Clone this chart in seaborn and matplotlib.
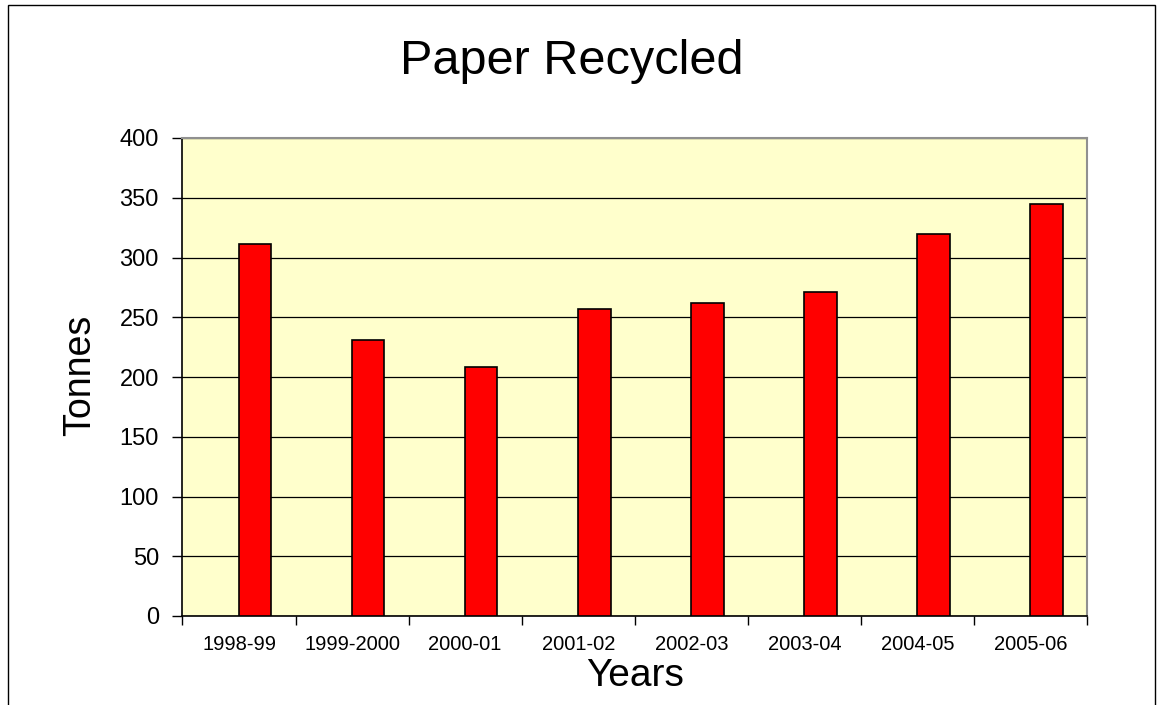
import matplotlib
matplotlib.use("Agg")
import matplotlib.pyplot as plt
import seaborn as sns
import pandas as pd
import numpy as np
from matplotlib.patches import Rectangle
from matplotlib.ticker import FixedLocator, MultipleLocator

years = ["1998-99", "1999-2000", "2000-01", "2001-02", "2002-03", "2003-04", "2004-05", "2005-06"]
tonnes = [311, 231, 208, 257, 262, 271, 320, 345]
series_name = "Paper"
blank_series = " "

sns.set_theme(style="white")
plt.rcParams["font.family"] = ["Liberation Sans", "DejaVu Sans"]

df = pd.DataFrame({"Years": years, "Tonnes": tonnes, "Series": [series_name] * len(years)})

fig = plt.figure(figsize=(11.58, 7.05), dpi=100)
fig.patch.set_facecolor("white")
ax = fig.add_axes([182.5 / 1158, 1 - 616 / 705, (1087 - 182.5) / 1158, (616 - 138) / 705])
ax.set_facecolor("#FFFFCC")

sns.barplot(data=df, x="Years", y="Tonnes", hue="Series",
            hue_order=[blank_series, series_name],
            palette={blank_series: "#FFFFCC", series_name: "#FF0000"},
            order=years, width=0.5714, dodge=True, gap=0, saturation=1,
            edgecolor="black", linewidth=1.2, legend=False, ax=ax, zorder=3)

ax.set_ylim(0, 400)
ax.set_xlim(-0.5, len(years) - 0.5)
ax.yaxis.set_major_locator(MultipleLocator(50))
ax.yaxis.grid(True, color="black", linewidth=0.9, zorder=1)
ax.set_axisbelow(True)

# x ticks: labels at centers, tick marks at category boundaries
ax.set_xticks(np.arange(len(years)))
ax.set_xticklabels(years, fontsize=14.5, color="black")
ax.tick_params(axis="x", which="major", length=0, pad=14)
ax.xaxis.set_minor_locator(FixedLocator(np.arange(-0.5, len(years), 1.0)))
ax.tick_params(axis="x", which="minor", bottom=True, length=6.5, width=1, color="black", direction="out")

ax.tick_params(axis="y", which="major", left=True, length=7, width=1, color="black",
               direction="out", labelsize=17, pad=10, labelcolor="black")

for side in ["left", "bottom"]:
    ax.spines[side].set_color("black")
    ax.spines[side].set_linewidth(1.2)
for side in ["top", "right"]:
    ax.spines[side].set_visible(True)
    ax.spines[side].set_color("#909090")
    ax.spines[side].set_linewidth(1.5)

ax.set_xlabel("Years", fontsize=28, color="black")
ax.xaxis.set_label_coords(0.5, -0.088)
ax.set_ylabel("Tonnes", fontsize=27, color="black")
ax.yaxis.set_label_coords(-0.0934, 0.504)

fig.text(0.494, 1 - 62 / 705, "Paper Recycled", fontsize=35, ha="center", va="center", color="black")

# outer chart border
fig.patches.append(Rectangle((8 / 1158, -0.2), (1155 - 8) / 1158, 1.2 - 5 / 705,
                             transform=fig.transFigure, fill=False, edgecolor="black",
                             linewidth=1.0, clip_on=False))

fig.savefig("out.png", dpi=100)
